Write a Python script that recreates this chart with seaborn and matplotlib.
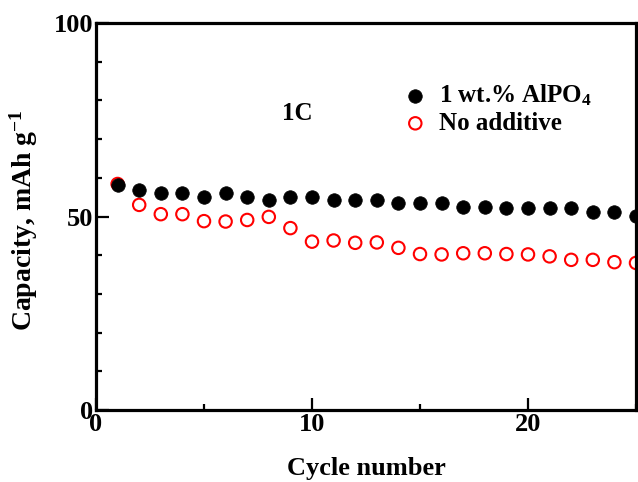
import numpy as np
import pandas as pd
import matplotlib
matplotlib.use("Agg")
import matplotlib.pyplot as plt
import seaborn as sns
from matplotlib.ticker import MultipleLocator

cycles = list(range(1, 26))
cap_alpo4 = [58.1, 56.9, 56.2, 56.2, 55.1, 56.2, 55.1, 54.2, 55.1, 55.1,
             54.2, 54.2, 54.2, 53.4, 53.4, 53.4, 52.5, 52.5, 52.1, 52.1,
             52.1, 52.1, 51.2, 51.2, 50.2]
cap_none = [58.4, 53.0, 50.6, 50.6, 48.8, 48.7, 49.1, 49.9, 47.0, 43.5,
            43.8, 43.2, 43.3, 41.9, 40.3, 40.2, 40.5, 40.5, 40.3, 40.2,
            39.7, 38.8, 38.8, 38.2, 38.0]
series_names = ["1 wt.% AlPO$_4$", "No additive"]

sns.set_theme(style="white")
plt.rcParams["font.family"] = ["Liberation Serif", "DejaVu Serif"]
plt.rcParams["font.weight"] = "bold"
plt.rcParams["text.color"] = "black"
plt.rcParams["axes.labelcolor"] = "black"
plt.rcParams["xtick.color"] = "black"
plt.rcParams["ytick.color"] = "black"
plt.rcParams["mathtext.fontset"] = "custom"
plt.rcParams["mathtext.rm"] = "Liberation Serif:bold"
plt.rcParams["mathtext.it"] = "Liberation Serif:bold"
plt.rcParams["mathtext.bf"] = "Liberation Serif:bold"
plt.rcParams["mathtext.default"] = "regular"

df = pd.DataFrame({
    "cycle": cycles * 2,
    "capacity": cap_alpo4 + cap_none,
    "series": [series_names[0]] * len(cycles) + [series_names[1]] * len(cycles),
})

fig = plt.figure(figsize=(6.38, 4.82), dpi=100)
ax = fig.add_axes([96 / 638, 72 / 482, 540 / 638, 387 / 482])

sns.scatterplot(data=df[df.series == series_names[0]], x="cycle", y="capacity",
                ax=ax, color="black", edgecolor="black", s=95, marker="o",
                linewidth=0.5, label=series_names[0], zorder=3, clip_on=False)
sns.scatterplot(data=df[df.series == series_names[1]], x="cycle", y="capacity",
                ax=ax, facecolor="none", edgecolor="#ff0000", s=80, marker="o",
                linewidth=1.5, label=series_names[1], zorder=2, clip_on=False)

ax.set_xlim(0, 25)
ax.set_ylim(0, 100)
ax.xaxis.set_major_locator(MultipleLocator(10))
ax.xaxis.set_minor_locator(MultipleLocator(5))
ax.yaxis.set_major_locator(MultipleLocator(50))
ax.yaxis.set_minor_locator(MultipleLocator(10))
ax.tick_params(which="major", direction="in", length=9, width=1.6,
               labelsize=19, pad=2, left=True, bottom=True, colors="black")
ax.tick_params(which="minor", direction="in", length=4.5, width=1.6,
               left=True, bottom=True, colors="black")
for lab in ax.get_xticklabels() + ax.get_yticklabels():
    lab.set_fontweight("bold")
for sp in ax.spines.values():
    sp.set_linewidth(2.3)
    sp.set_color("black")

ax.set_xlabel("Cycle number", fontsize=19, fontweight="bold", labelpad=15,
              color="black")
ax.set_ylabel("Capacity, mAh g$^{-1}$", fontsize=20, fontweight="bold",
              color="black")
ax.yaxis.set_label_coords(-0.104, 0.49)

ax.text(9.3, 76.5, "1C", fontsize=18, fontweight="bold", ha="center",
        va="center", color="black")

leg = ax.legend(loc="upper left", bbox_to_anchor=(0.545, 0.872), frameon=False,
                fontsize=18, handletextpad=0.35, labelspacing=0.15,
                borderaxespad=0, handlelength=1.2)
for t in leg.get_texts():
    t.set_fontweight("bold")
    t.set_color("black")

fig.savefig("out.png", dpi=100)
